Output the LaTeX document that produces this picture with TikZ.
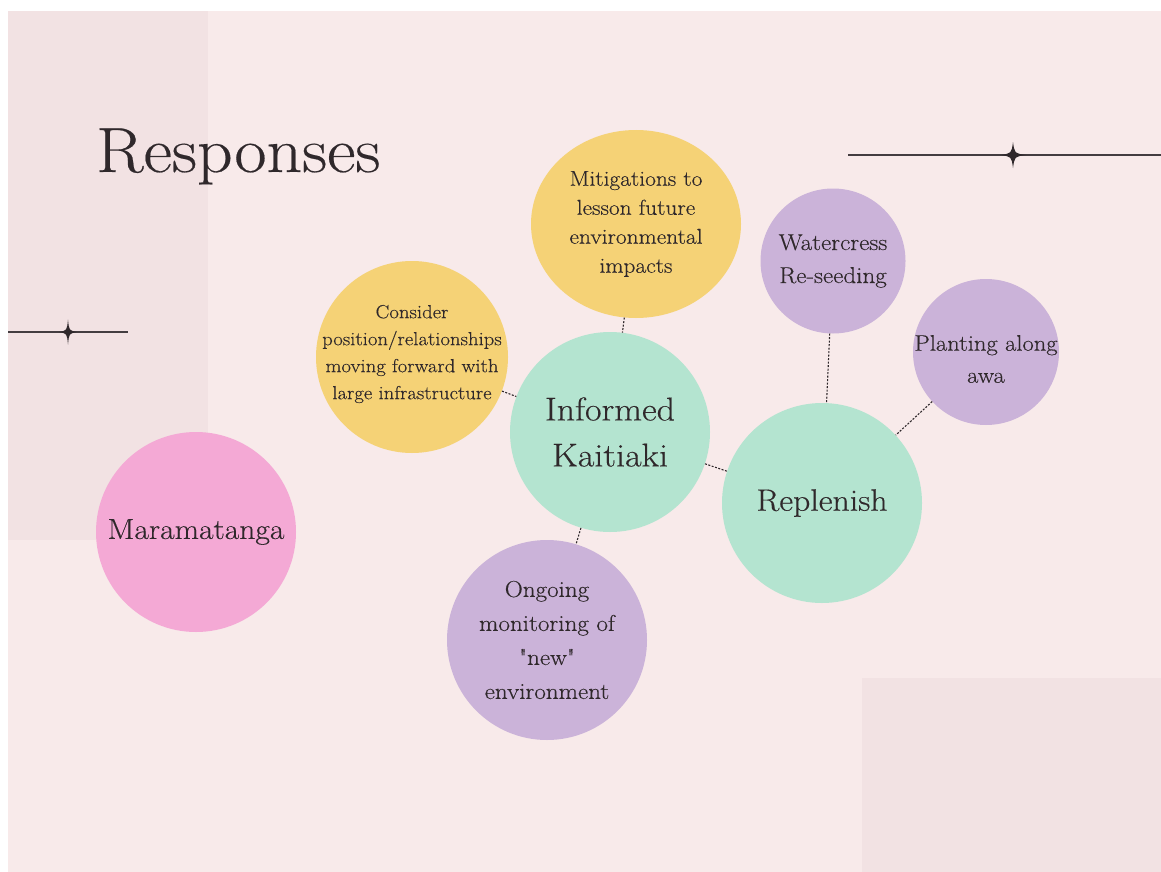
\documentclass[tikz,border=0pt]{standalone}
\usepackage{fontspec}
\setmainfont{Latin Modern Roman}[Ligatures=TeXOff, FakeStretch=1.09, FakeBold=0.3]
\usetikzlibrary{shapes.geometric}
\definecolor{slidebg}{HTML}{F8EAEA}
\definecolor{panelbg}{HTML}{F2E2E3}
\definecolor{inkdark}{HTML}{2F282B}
\definecolor{sunyellow}{HTML}{F5D276}
\definecolor{mintgreen}{HTML}{B4E4D0}
\definecolor{lilac}{HTML}{CBB3D9}
\definecolor{candypink}{HTML}{F4A9D5}
% four pointed star: x, y, half width, half height
\newcommand{\sparkle}[4]{\begin{scope}[shift={(#1,#2)},xscale=#3,yscale=#4]
  \fill[inkdark] (0,-1) .. controls (0.12,-0.12) .. (1,0) .. controls (0.12,0.12) .. (0,1)
    .. controls (-0.12,0.12) .. (-1,0) .. controls (-0.12,-0.12) .. (0,-1) -- cycle;
  \end{scope}}
\tikzset{
  bubble/.style={circle, fill=#1, draw=none, inner sep=0pt, align=center, text=inkdark},
  link/.style={draw=inkdark, line width=1.1pt, dash pattern=on 2pt off 1.5pt},
  rule/.style={draw=inkdark!90, line width=1.6pt}
}

\begin{document}
\begin{tikzpicture}[x=1pt, y=-1pt]
  % page and slide
  \useasboundingbox (0,0) rectangle (1161,872);
  \fill[white] (0,0) rectangle (1161,872);
  \fill[slidebg] (8,11) rectangle (1161,872);
  \fill[panelbg] (8,11) rectangle (208,540);
  \fill[panelbg] (862,678) rectangle (1161,872);

  % title
  \node[anchor=base west, inner sep=0pt, text=inkdark, font=\fontsize{64}{64}\selectfont] (title) at (96,172) {Responses};

  % star lines
  \draw[rule] (848,155) -- (1161,155);
  \sparkle{1013}{155}{13}{13}
  \draw[rule] (8,332) -- (128,332);
  \sparkle{68}{332}{9}{12.5}

  % bubbles
  \node[bubble=candypink, minimum size=200pt, font=\fontsize{29}{40}\selectfont] (mara) at (196,532) {Maramatanga};
  \node[bubble=mintgreen, minimum size=200pt, font=\fontsize{33}{46}\selectfont] (inf) at (610,432) {Informed\\Kaitiaki};
  \node[bubble=mintgreen, minimum size=200pt, font=\fontsize{31}{44}\selectfont] (rep) at (822,503) {Replenish};
  \node[bubble=sunyellow, ellipse, minimum width=210pt, minimum height=188pt, font=\fontsize{21.5}{29}\selectfont] (mit) at (636,224) {Mitigations to\\lesson future\\environmental\\impacts};
  \node[bubble=sunyellow, minimum size=192pt,
        label={[align=center, text=inkdark, font=\fontsize{19}{27}\selectfont, yshift=3pt]center:Consider\\position/relationships\\moving forward with\\large infrastructure}] (cons) at (412,357) {};
  \node[bubble=lilac, minimum size=200pt, font=\fontsize{23}{34}\selectfont] (ongo) at (547,640) {Ongoing\\monitoring of\\"new"\\environment};
  \node[bubble=lilac, minimum size=145pt, font=\fontsize{23}{33}\selectfont] (water) at (833,261) {Watercress\\Re-seeding};
  \node[bubble=lilac, minimum size=146pt,
        label={[align=center, text=inkdark, font=\fontsize{22.5}{32}\selectfont, yshift=-7pt]center:Planting along\\awa}] (plant) at (986,352) {};

  % links
  \draw[link] (mit) -- (inf);
  \draw[link] (cons) -- (inf);
  \draw[link] (inf) -- (rep);
  \draw[link] (inf) -- (ongo);
  \draw[link] (water) -- (rep);
  \draw[link] (plant) -- (rep);
\end{tikzpicture}
\end{document}
